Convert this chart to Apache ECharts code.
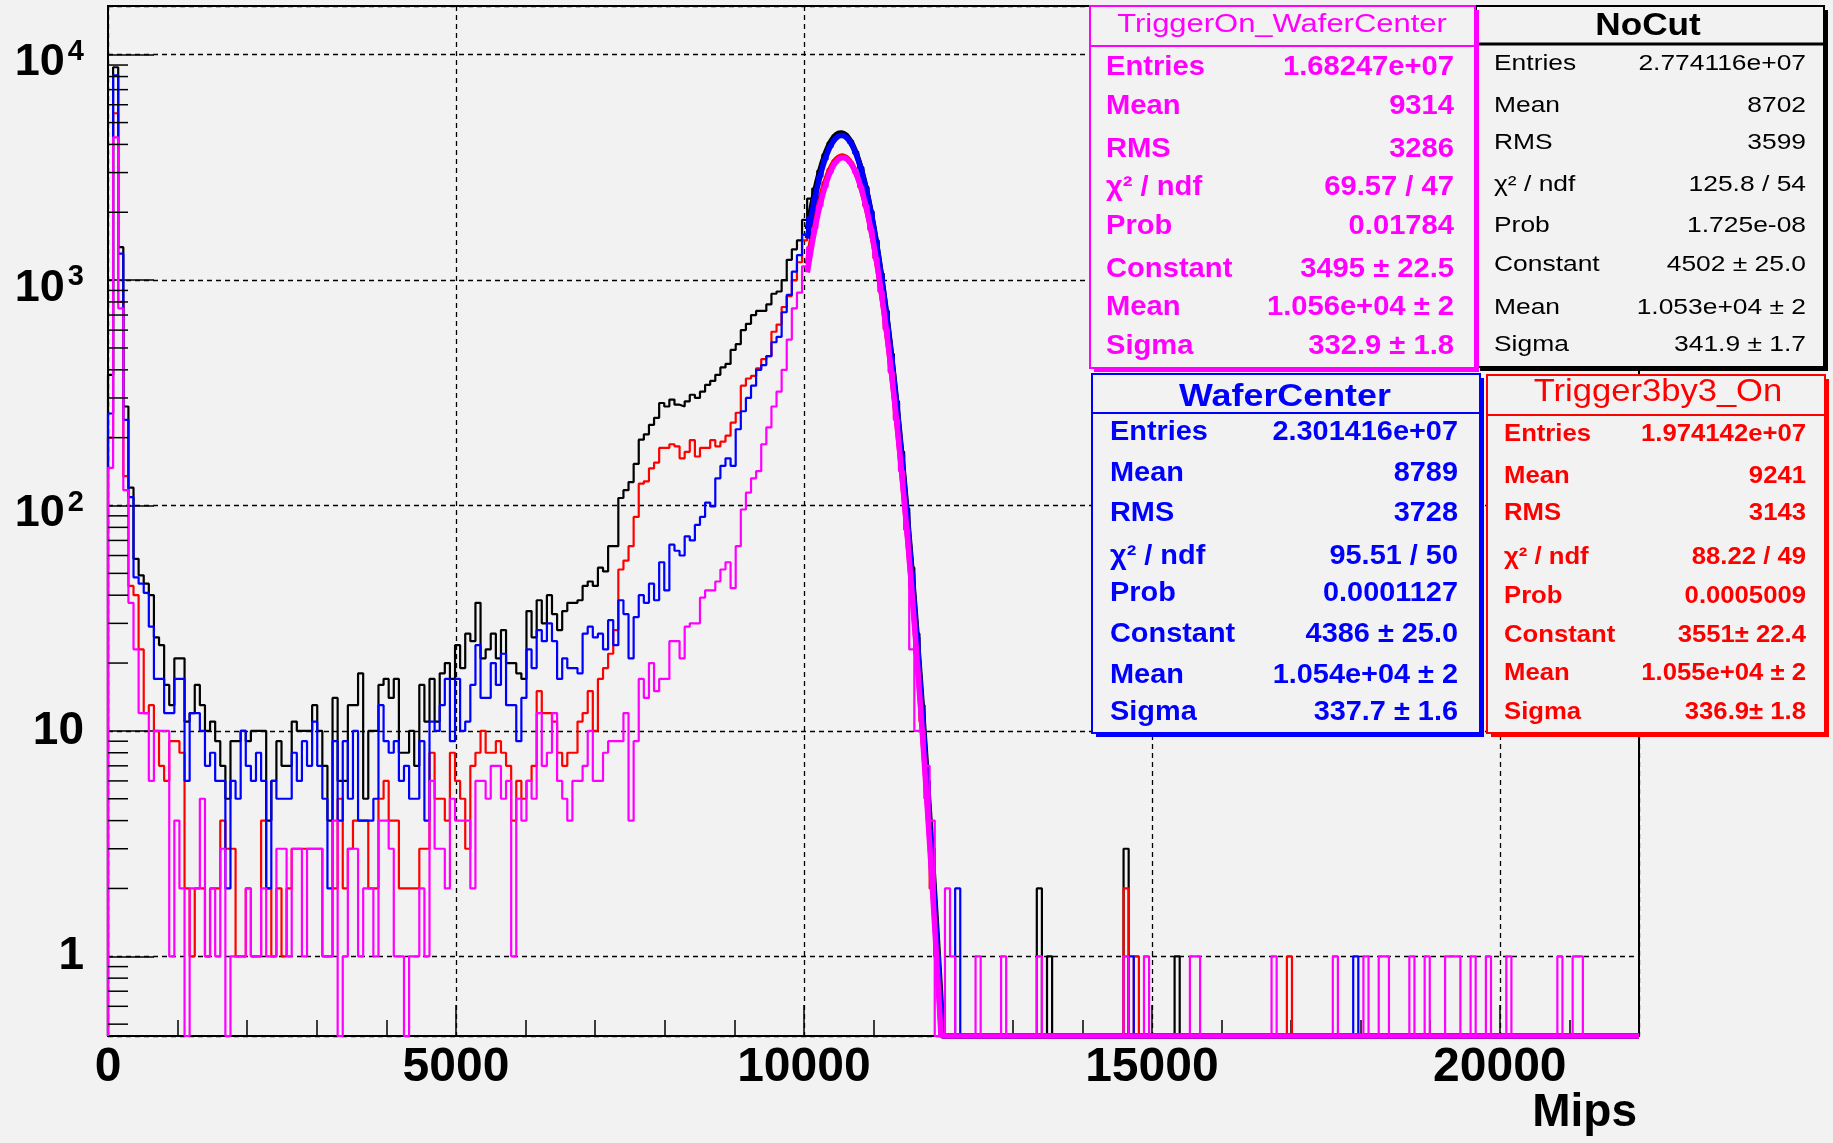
<!DOCTYPE html>
<html>
<head>
<meta charset="utf-8">
<script src="https://cdn.jsdelivr.net/npm/echarts@6/dist/echarts.min.js"></script>
<style>
html,body{margin:0;padding:0;background:#f2f2f2;}
#chart{width:1833px;height:1143px;}
</style>
</head>
<body>
<div id="chart"></div>
<script>
// Energy deposit histograms (Mips), 300 equal bins over [0, 22000], log-scale counts
const X_MIN = 0, X_MAX = 22000, N_BINS = 300;
const Y_MIN = 0.443, Y_MAX = 16450;
const FONT = '"Liberation Sans", Arial, Helvetica, sans-serif';

// Bin contents for bins 0..163 (pedestal spike, plateau, main peak)
const noCutCounts = [
  380, 8800, 1400, 275, 120, 58, 49, 45, 40, 26,
  24, 16, 13, 21, 21, 11, 12, 16, 13, 10,
  11, 9, 7, 5, 9, 9, 10, 9, 10, 10,
  10, 4, 6, 9, 7, 7, 11, 10, 10, 10,
  13, 10, 7, 4, 14, 6, 6, 13, 13, 18,
  5, 10, 10, 16, 17, 14, 17, 8, 8, 10,
  7, 16, 11, 17, 11, 18, 20, 17, 24, 19,
  27, 25, 37, 21, 23, 27, 21, 28, 20, 20,
  18, 17, 34, 26, 38, 30, 40, 33, 28, 34,
  37, 37, 38, 44, 46, 44, 53, 51, 66, 66,
  108, 117, 127, 153, 196, 207, 228, 245, 285, 275,
  295, 280, 275, 290, 310, 300, 320, 343, 357, 380,
  410, 425, 490, 520, 600, 640, 700, 730, 730, 780,
  870, 890, 1000, 1230, 1370, 1500, 1850, 2300, 2550, 3060,
  3610, 4070, 4380, 4500, 4420, 4140, 3710, 3170, 2590, 2020,
  1500, 1070, 730, 470, 290, 173, 97, 53, 27, 13,
  6, 3, 1, 0
];
const trig3x3Counts = [
  200, 5500, 800, 135, 44, 40, 23, 12, 13, 10,
  7, 6, 9, 9, 8, 2, 1, 2, 2, 1,
  2, 2, 4, 3, 3, 1, 1, 2, 1, 1,
  4, 2, 1, 2, 1, 2, 3, 3, 3, 3,
  3, 3, 1, 1, 2, 5, 2, 3, 4, 4,
  4, 2, 2, 5, 6, 4, 4, 2, 2, 2,
  2, 3, 3, 8, 5, 5, 4, 8, 6, 5,
  3, 7, 8, 10, 8, 8, 9, 8, 7, 4,
  6, 5, 6, 7, 15, 12, 12, 11, 8, 7,
  8, 8, 11, 12, 15, 10, 17, 19, 22, 28,
  52, 57, 66, 89, 125, 128, 146, 155, 180, 180,
  187, 183, 162, 173, 195, 165, 180, 180, 195, 183,
  192, 204, 233, 258, 340, 366, 376, 406, 446, 460,
  590, 635, 760, 850, 1000, 1200, 1500, 1750, 1900, 2260,
  2710, 3110, 3400, 3540, 3520, 3330, 3010, 2590, 2130, 1675,
  1250, 890, 610, 393, 244, 144, 81, 43, 22, 11,
  5, 2, 1, 0
];
const waferCenterCounts = [
  256, 8100, 1310, 240, 109, 48, 45, 41, 29, 17,
  17, 12, 12, 17, 17, 6, 12, 12, 10, 7,
  8, 6, 6, 2, 6, 5, 10, 7, 6, 8,
  6, 2, 6, 5, 5, 5, 8, 6, 9, 7,
  11, 7, 5, 2, 9, 4, 9, 5, 10, 4,
  4, 4, 5, 13, 9, 8, 9, 6, 7, 5,
  5, 9, 4, 11, 10, 13, 17, 9, 17, 10,
  11, 16, 24, 14, 14, 20, 16, 22, 13, 13,
  9, 14, 23, 19, 28, 25, 30, 25, 17, 21,
  19, 19, 18, 27, 29, 26, 27, 23, 31, 24,
  38, 33, 21, 32, 40, 37, 45, 38, 56, 42,
  67, 63, 60, 73, 70, 82, 89, 103, 99, 132,
  150, 162, 150, 218, 262, 300, 340, 400, 420, 460,
  530, 560, 720, 860, 1090, 1290, 1590, 1900, 2300, 2880,
  3430, 3900, 4230, 4380, 4320, 4070, 3660, 3130, 2560, 2000,
  1490, 1050, 715, 460, 285, 168, 93, 50, 26, 12,
  6, 3, 1, 0
];
const trigOnWaferCounts = [
  147, 4300, 750, 117, 37, 23, 12, 12, 6, 10,
  10, 10, 1, 4, 2, 0, 2, 2, 5, 1,
  2, 1, 3, 0, 1, 1, 1, 2, 1, 1,
  2, 1, 1, 3, 3, 1, 3, 3, 1, 3,
  3, 3, 1, 1, 4, 0, 1, 3, 3, 1,
  2, 2, 1, 4, 4, 3, 1, 1, 0, 1,
  1, 2, 1, 6, 3, 3, 2, 5, 4, 4,
  4, 2, 6, 6, 5, 7, 7, 5, 6, 1,
  5, 4, 6, 5, 12, 7, 8, 12, 6, 5,
  4, 6, 6, 7, 10, 6, 6, 8, 9, 9,
  9, 12, 4, 9, 17, 14, 20, 15, 17, 17,
  25, 25, 21, 29, 30, 30, 39, 42, 42, 46,
  52, 56, 43, 66, 96, 114, 132, 142, 187, 222,
  275, 320, 400, 545, 750, 880, 1150, 1400, 1700, 2140,
  2590, 3000, 3310, 3470, 3470, 3310, 3000, 2590, 2140, 1680,
  1250, 890, 605, 390, 240, 142, 78, 23, 10, 10,
  7, 4, 0, 0
];

// Sparse high-energy tail: [bin index, entries]
const noCutTail = [[182, 2], [184, 1], [199, 3], [209, 1]];
const trig3x3Tail = [[199, 2], [201, 1], [231, 1]];
const waferCenterTail = [[166, 2], [200, 1], [244, 1]];
const trigOnWaferTail = [[164, 2], [165, 1], [170, 1], [175, 1], [182, 1], [199, 1], [203, 1],
  [212, 1], [213, 1], [228, 1], [240, 1], [246, 1], [249, 1], [250, 1], [255, 1], [258, 1],
  [262, 1], [263, 1], [264, 1], [267, 1], [270, 1], [274, 1], [284, 1], [287, 1], [288, 1]];

// Gaussian fit results, order: NoCut, Trigger3by3_On, WaferCenter, TriggerOn_WaferCenter
const fitConstant = [4502, 3551, 4386, 3495];
const fitMean = [10530, 10550, 10540, 10560];
const fitSigma = [341.9, 336.9, 337.7, 332.9];
const FIT_RANGE = [10050, 22000];

const histNames = ['NoCut', 'Trigger3by3_On', 'WaferCenter', 'TriggerOn_WaferCenter'];
const histColors = ['#000000', '#ff0000', '#0000ff', '#ff00ff'];

// Stat box texts
const statLabels = ['Entries', 'Mean', 'RMS', 'χ² / ndf', 'Prob', 'Constant', 'Mean', 'Sigma'];
const statNoCut = ['2.774116e+07', '8702', '3599', '125.8 / 54', '1.725e-08', '4502 ± 25.0', '1.053e+04 ± 2', '341.9 ± 1.7'];
const statTrig3x3 = ['1.974142e+07', '9241', '3143', '88.22 / 49', '0.0005009', '3551± 22.4', '1.055e+04 ± 2', '336.9± 1.8'];
const statWafer = ['2.301416e+07', '8789', '3728', '95.51 / 50', '0.0001127', '4386 ± 25.0', '1.054e+04 ± 2', '337.7 ± 1.6'];
const statTrigOnWafer = ['1.68247e+07', '9314', '3286', '69.57 / 47', '0.01784', '3495 ± 22.5', '1.056e+04 ± 2', '332.9 ± 1.8'];

const BIN_W = (X_MAX - X_MIN) / N_BINS;

function allBins(dense, tail) {
  const c = new Array(N_BINS).fill(0);
  dense.forEach((v, i) => { c[i] = v; });
  tail.forEach(([i, v]) => { c[i] = v; });
  return c;
}

// Histogram outline: empty bins fall to the bottom of the log frame
function outline(counts) {
  const pts = [[X_MIN, Y_MIN]];
  counts.forEach((v, i) => {
    const y = v > 0 ? v : Y_MIN;
    const lo = X_MIN + i * BIN_W;
    pts.push([lo, y], [lo + BIN_W, y]);
  });
  pts.push([X_MAX, Y_MIN]);
  return pts;
}

function fitCurve(k) {
  const pts = [];
  for (let x = FIT_RANGE[0]; x <= FIT_RANGE[1]; x += 10) {
    const z = (x - fitMean[k]) / fitSigma[k];
    pts.push([x, Math.max(fitConstant[k] * Math.exp(-0.5 * z * z), Y_MIN)]);
  }
  return pts;
}

const histograms = [
  allBins(noCutCounts, noCutTail),
  allBins(trig3x3Counts, trig3x3Tail),
  allBins(waferCenterCounts, waferCenterTail),
  allBins(trigOnWaferCounts, trigOnWaferTail)
];

const series = [];
histograms.forEach((h, k) => {
  series.push({
    name: histNames[k], type: 'line', data: outline(h), symbol: 'none', silent: true,
    lineStyle: { color: histColors[k], width: 2.2 }, animation: false
  });
  series.push({
    name: histNames[k] + ' fit', type: 'line', data: fitCurve(k), symbol: 'none', silent: true,
    smooth: false, lineStyle: { color: histColors[k], width: 5.5 }, animation: false
  });
});

// Log-axis minor ticks (2..9 per decade)
const yMinor = [];
for (let d = -1; d <= 3; d++) {
  for (let m = 2; m <= 9; m++) {
    const v = m * Math.pow(10, d);
    if (v > Y_MIN && v < Y_MAX) yMinor.push([X_MIN, v]);
  }
}
series.push({
  type: 'custom', silent: true, animation: false, z: 5,
  data: yMinor,
  renderItem: (params, api) => {
    const p = api.coord([api.value(0), api.value(1)]);
    return { type: 'line', shape: { x1: p[0], y1: p[1], x2: p[0] + 20, y2: p[1] },
      style: { stroke: '#000', lineWidth: 1.5 } };
  }
});

// Stat boxes
function statBox(o) {
  const els = [];
  const z = o.z;
  els.push({ type: 'rect', z: z, shape: { x: o.x + o.sh, y: o.y + o.sh, width: o.w, height: o.h },
    style: { fill: o.shadow } });
  els.push({ type: 'rect', z: z + 1, shape: { x: o.x, y: o.y, width: o.w, height: o.h },
    style: { fill: '#f2f2f2', stroke: o.color, lineWidth: 2 } });
  els.push({ type: 'line', z: z + 2, shape: { x1: o.x, y1: o.sepY, x2: o.x + o.w, y2: o.sepY },
    style: { stroke: o.color, lineWidth: o.sepW } });
  els.push({ type: 'text', z: z + 3, x: o.titleX, y: o.titleY, scaleX: o.titleScale,
    style: { text: o.title, fill: o.color, font: o.titleFont, align: 'center', verticalAlign: 'middle' } });
  o.rows.forEach((ry, i) => {
    els.push({ type: 'text', z: z + 3, x: o.labelX, y: ry, scaleX: o.scale,
      style: { text: statLabels[i], fill: o.color, font: o.font, align: 'left', verticalAlign: 'middle' } });
    els.push({ type: 'text', z: z + 3, x: o.valueX, y: ry, scaleX: o.scale,
      style: { text: o.values[i], fill: o.color, font: o.font, align: 'right', verticalAlign: 'middle' } });
  });
  return els;
}

const graphics = [].concat(
  statBox({ z: 100, x: 1476, y: 6, w: 348, h: 361, sh: 4, color: '#000', shadow: '#000',
    sepY: 44, sepW: 3, title: histNames[0], titleX: 1648, titleY: 26, titleScale: 1.1,
    titleFont: 'bold 32px ' + FONT, labelX: 1494, valueX: 1806, scale: 1.2,
    font: '22px ' + FONT, values: statNoCut, rows: [64, 106, 143, 185, 226, 265, 308, 345] }),
  statBox({ z: 110, x: 1090, y: 6, w: 385, h: 362, sh: 4, color: '#ff00ff', shadow: '#ff00ff',
    sepY: 46, sepW: 2, title: histNames[3], titleX: 1282, titleY: 25, titleScale: 1.19,
    titleFont: '26px ' + FONT, labelX: 1106, valueX: 1454, scale: 1.08,
    font: 'bold 27px ' + FONT, values: statTrigOnWafer, rows: [68, 107, 150, 188, 227, 270, 308, 347] }),
  statBox({ z: 120, x: 1487, y: 375, w: 338, h: 358, sh: 4, color: '#ff0000', shadow: '#ff0000',
    sepY: 415, sepW: 2, title: histNames[1], titleX: 1658, titleY: 392, titleScale: 1.08,
    titleFont: '32px ' + FONT, labelX: 1504, valueX: 1806, scale: 1.07,
    font: 'bold 24px ' + FONT, values: statTrig3x3, rows: [434, 476, 513, 557, 596, 635, 673, 712] }),
  statBox({ z: 130, x: 1092, y: 374, w: 388, h: 359, sh: 4, color: '#0000ff', shadow: '#0000ff',
    sepY: 413, sepW: 2, title: histNames[2], titleX: 1285, titleY: 397, titleScale: 1.12,
    titleFont: 'bold 32px ' + FONT, labelX: 1110, valueX: 1458, scale: 1.07,
    font: 'bold 27px ' + FONT, values: statWafer, rows: [433, 474, 514, 557, 594, 635, 676, 713] }),
  [{ type: 'text', z: 50, x: 1637, y: 1113,
     style: { text: 'Mips', fill: '#000', font: 'bold 46px ' + FONT, align: 'right', verticalAlign: 'middle' } }]
);

const chart = echarts.init(document.getElementById('chart'), null, { renderer: 'canvas' });
chart.setOption({
  backgroundColor: '#f2f2f2',
  animation: false,
  grid: { left: 108, top: 6, width: 1531, height: 1030, show: true, borderColor: '#000', borderWidth: 2,
    backgroundColor: 'transparent', containLabel: false },
  xAxis: {
    type: 'value', min: X_MIN, max: X_MAX, interval: 5000,
    axisLine: { show: true, onZero: false, lineStyle: { color: '#000', width: 2 } },
    axisTick: { show: true, inside: true, length: 31, lineStyle: { color: '#000', width: 1.5 } },
    minorTick: { show: true, splitNumber: 5, length: 16, lineStyle: { color: '#000', width: 1.5 } },
    splitLine: { show: true, lineStyle: { color: '#000', width: 1.3, type: [5, 4] } },
    axisLabel: { margin: 8, fontSize: 48, fontWeight: 'bold', fontFamily: FONT, color: '#000',
      showMaxLabel: false, formatter: v => String(v) }
  },
  yAxis: {
    type: 'log', logBase: 10, min: Y_MIN, max: Y_MAX,
    axisLine: { show: true, lineStyle: { color: '#000', width: 2 } },
    axisTick: { show: true, inside: true, length: 46, lineStyle: { color: '#000', width: 1.5 } },
    splitLine: { show: true, lineStyle: { color: '#000', width: 1.3, type: [5, 4] } },
    axisLabel: {
      showMinLabel: false, showMaxLabel: false, margin: 24, color: '#000',
      formatter: v => {
        const e = Math.round(Math.log10(v));
        if (e === 0) return '{a|1}';
        if (e === 1) return '{a|10}';
        return '{b|10}{s|' + e + '}';
      },
      rich: {
        a: { fontSize: 46, fontWeight: 'bold', fontFamily: FONT, color: '#000' },
        b: { fontSize: 45, fontWeight: 'bold', fontFamily: FONT, color: '#000', lineHeight: 45, padding: [16, 0, 0, 0] },
        s: { fontSize: 29, fontWeight: 'bold', fontFamily: FONT, color: '#000', lineHeight: 29,
          verticalAlign: 'top', padding: [5, 0, 0, 3] }
      }
    }
  },
  series: series,
  graphic: { elements: graphics }
});
</script>
</body>
</html>
